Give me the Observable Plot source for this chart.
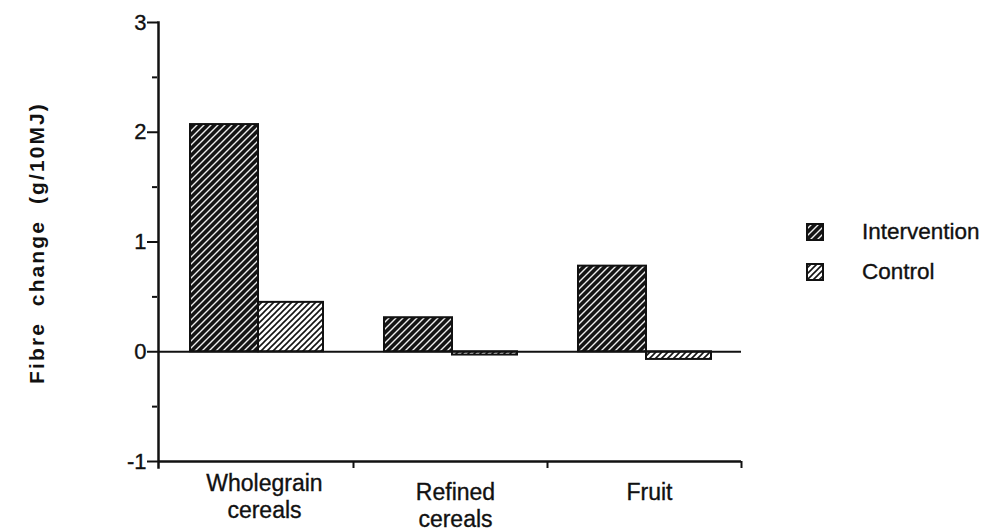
<!DOCTYPE html>
<html>
<head>
<meta charset="utf-8">
<script src="https://cdn.jsdelivr.net/npm/d3@7"></script>
<script src="https://cdn.jsdelivr.net/npm/@observablehq/plot@0.6"></script>
<style>
  html, body { margin: 0; padding: 0; background: #fff; }
  #wrap { position: relative; width: 997px; height: 531px; font-family: "Liberation Sans", Arial, Helvetica, sans-serif; color: #111; }
  #wrap svg.plot { position: absolute; left: 0; top: 0; }
  #wrap svg.plot text { stroke: #111; stroke-width: 0.35px; }
  #ytitle {
    position: absolute; left: 37px; top: 243px;
    transform: translate(-50%, -50%) rotate(-90deg);
    white-space: nowrap; font-weight: bold; font-size: 21px;
    letter-spacing: 2.1px; word-spacing: 8px; color: #111;
  }
  .legend-item { position: absolute; left: 806px; display: flex; align-items: center; font-size: 22.5px; -webkit-text-stroke: 0.35px #111; }
  .legend-item svg { display: block; margin-right: 38px; }
</style>
</head>
<body>
<div id="wrap">
  <div id="ytitle">Fibre change (g/10MJ)</div>
</div>
<script>
// Mean change in dietary fibre intake by food source, per group
const categories = ["Wholegrain cereals", "Refined cereals", "Fruit"];
const intervention = [2.07, 0.31, 0.78];
const control = [0.45, -0.03, -0.07];
const seriesNames = ["Intervention", "Control"];
const yMajorTicks = [-1, 0, 1, 2, 3];
const yMinorTicks = [-0.5, 0.5, 1.5, 2.5];

const interventionRows = categories.map((c, i) => ({category: c, value: intervention[i]}));
const controlRows = categories.map((c, i) => ({category: c, value: control[i]}));

// Diagonal hatch fills: dark with white lines, and white with dark lines
function hatchDefs(prefix) {
  const defs = d3.create("svg:defs");
  const dark = defs.append("pattern")
    .attr("id", prefix + "-intervention")
    .attr("patternUnits", "userSpaceOnUse")
    .attr("width", 7).attr("height", 7);
  dark.append("rect").attr("width", 7).attr("height", 7).attr("fill", "#141414");
  dark.append("path").attr("d", "M-2,2L2,-2M0,7L7,0M5,9L9,5")
    .attr("stroke", "#eeeeee").attr("stroke-width", 1.4);
  const light = defs.append("pattern")
    .attr("id", prefix + "-control")
    .attr("patternUnits", "userSpaceOnUse")
    .attr("width", 6).attr("height", 6);
  light.append("rect").attr("width", 6).attr("height", 6).attr("fill", "#fff");
  light.append("path").attr("d", "M-2,2L2,-2M0,6L6,0M4,8L8,4")
    .attr("stroke", "#141414").attr("stroke-width", 1.6);
  return defs.node();
}

const ink = "#111";
const plot = Plot.plot({
  width: 997,
  height: 531,
  marginLeft: 158,
  marginRight: 256,
  marginTop: 22,
  marginBottom: 70,
  style: {fontFamily: '"Liberation Sans", Arial, Helvetica, sans-serif', color: ink, background: "transparent", overflow: "visible"},
  x: {domain: categories, padding: 0, axis: null},
  y: {domain: [-1, 3], axis: null},
  marks: [
    () => hatchDefs("hatch"),
    Plot.barY(interventionRows, {
      x: "category", y: "value",
      fill: "url(#hatch-intervention)", stroke: ink, strokeWidth: 2,
      insetLeft: 31, insetRight: 95
    }),
    Plot.barY(controlRows, {
      x: "category", y: "value",
      fill: "url(#hatch-control)", stroke: ink, strokeWidth: 2,
      insetLeft: 99, insetRight: 30
    }),
    Plot.ruleY([0], {stroke: ink, strokeWidth: 2}),
    Plot.ruleY([-1], {stroke: ink, strokeWidth: 2.5}),
    Plot.frame({anchor: "left", stroke: ink, strokeWidth: 2.5, insetBottom: -6}),
    // y axis: labelled major ticks and short minor ticks
    Plot.axisY({ticks: yMajorTicks, tickSize: 11, tickPadding: 1, fontSize: 22, strokeWidth: 2, label: null, tickFormat: d => String(d)}),
    Plot.axisY({ticks: yMinorTicks, tickSize: 5, dx: -1, strokeWidth: 2, label: null, tickFormat: () => ""}),
    // x axis: ticks on the boundaries between categories
    Plot.axisX({ticks: categories, tickSize: 7, strokeWidth: 2, dx: 97, label: null, tickFormat: () => ""}),
    // category labels
    Plot.axisX({ticks: [categories[0]], tickSize: 0, tickPadding: 10, dx: 8, fontSize: 23, lineHeight: 1.17, label: null,
      tickFormat: d => d.replace(" ", "\n")}),
    Plot.axisX({ticks: categories.slice(1), tickSize: 0, tickPadding: 19, dx: 5, fontSize: 23, lineHeight: 1.17, label: null,
      tickFormat: d => d.replace(" ", "\n")})
  ]
});
plot.classList.add("plot");
const wrap = document.getElementById("wrap");
wrap.appendChild(plot);

// Legend
const legendTops = [222, 262];
seriesNames.forEach((name, i) => {
  const item = document.createElement("div");
  item.className = "legend-item";
  item.style.top = (legendTops[i] - 3) + "px";
  const sw = d3.create("svg").attr("width", 18).attr("height", 18);
  sw.node().appendChild(hatchDefs("legend" + i));
  sw.append("rect").attr("x", 1).attr("y", 1).attr("width", 16).attr("height", 16)
    .attr("fill", `url(#legend${i}-${name.toLowerCase()})`)
    .attr("stroke", ink).attr("stroke-width", 2);
  item.appendChild(sw.node());
  const label = document.createElement("span");
  label.textContent = name;
  item.appendChild(label);
  wrap.appendChild(item);
});
</script>
</body>
</html>
